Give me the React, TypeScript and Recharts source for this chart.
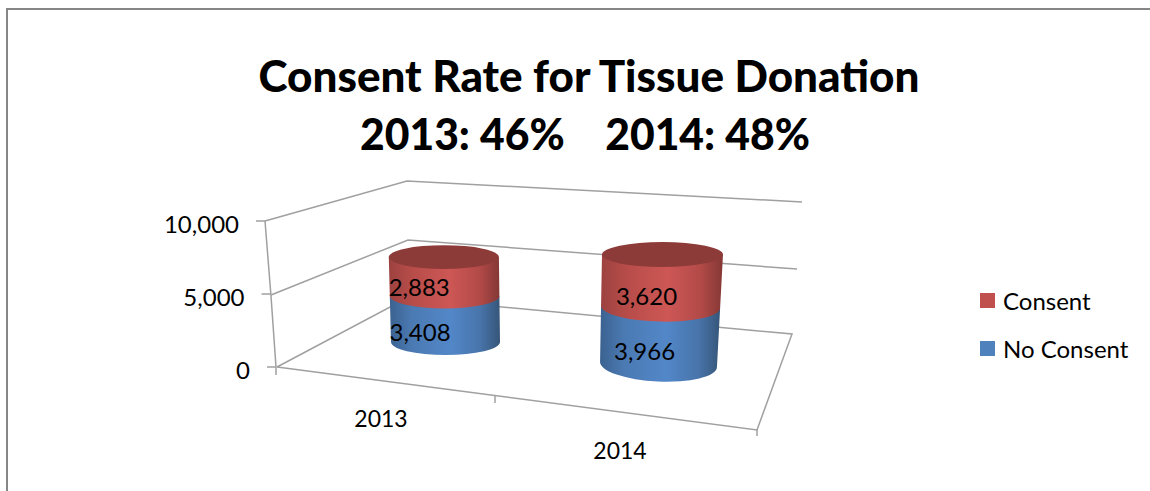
import React from "react";
import { BarChart, Bar, XAxis, YAxis, Legend, LabelList, Customized } from "recharts";

const years = ["2013", "2014"];
const noConsent = [3408, 3966];
const consent = [2883, 3620];
const yTicks = [0, 5000, 10000];
const titleLines = ["Consent Rate for Tissue Donation", "2013: 46%    2014: 48%"];
const titleWidths = [661, 450];
const titleCentres = [589, 585];

const chartData = years.map((year, i) => ({ year, noConsent: noConsent[i], consent: consent[i] }));

const FONT = "Lato, Carlito, sans-serif";
const W = 1150;
const H = 491;
const PLOT = { top: 222, bottom: 368, left: 277, right: 757 };
const RED = "#c0504d";
const BLUE = "#4f81bd";
const GRID = "#a0a0a0";

// Perspective of the floor for every category: where the foot of the cylinder lands and how it changes with height.
const VIEW = [
  { baseX: 445.5, baseY: 342, kY: 0.925, lean: -0.018, rx: 54.5, rxGrow: 0.006, ry: 13, ryGrow: -0.012, tilt: 0, tiltGrow: 0, labelDx: -25, labelDy: 12, tickDx: -16, tickY: 418 },
  { baseX: 658.5, baseY: 364.5, kY: 0.993, lean: 0.036, rx: 58.5, rxGrow: 0.018, ry: 17, ryGrow: -0.041, tilt: 2.7, tiltGrow: -0.025, labelDx: -15, labelDy: 15, tickDx: -17, tickY: 450 },
];

function ring(i: number, plotY: number) {
  const v = VIEW[i];
  const h = PLOT.bottom - plotY;
  const cx = v.baseX + v.lean * h;
  const cy = v.baseY - v.kY * h;
  const rx = v.rx + v.rxGrow * h;
  const ry = v.ry + v.ryGrow * h;
  const tilt = v.tilt + v.tiltGrow * h;
  const rad = (tilt * Math.PI) / 180;
  return {
    cx, cy, rx, ry, tilt,
    lx: cx - rx * Math.cos(rad), ly: cy - rx * Math.sin(rad),
    rX: cx + rx * Math.cos(rad), rY: cy + rx * Math.sin(rad),
  };
}

function Cylinder(props: any) {
  const { y, height, index, gradient, topFill } = props;
  const top = ring(index, y);
  const foot = ring(index, y + height);
  const d =
    `M${top.lx},${top.ly} L${foot.lx},${foot.ly} ` +
    `A${foot.rx},${foot.ry} ${foot.tilt} 0 0 ${foot.rX},${foot.rY} ` +
    `L${top.rX},${top.rY} Z`;
  return (
    <g>
      <path d={d} fill={`url(#${gradient})`} />
      {topFill ? (
        <ellipse cx={top.cx} cy={top.cy} rx={top.rx} ry={top.ry} fill={topFill} transform={`rotate(${top.tilt} ${top.cx} ${top.cy})`} />
      ) : null}
    </g>
  );
}

function DataLabel(props: any) {
  const { y, height, index, value, nudge = 0 } = props;
  const v = VIEW[index];
  const a = ring(index, y);
  const b = ring(index, y + height);
  return (
    <text
      x={(a.cx + b.cx) / 2 + v.labelDx}
      y={(a.cy + b.cy) / 2 + v.labelDy + (index === 0 ? nudge : 0)}
      textAnchor="middle"
      dominantBaseline="central"
      fontFamily={FONT}
      fontSize={24}
      fill="#000"
    >
      {Number(value).toLocaleString("en-US")}
    </text>
  );
}

function YTick(props: any) {
  const { y, payload } = props;
  const h = PLOT.bottom - y;
  const axisX = PLOT.left - 1 - h * 0.0753;
  return (
    <g>
      <line x1={axisX - 9} x2={axisX} y1={y - 1} y2={y - 1} stroke={GRID} strokeWidth={1.5} />
      <text x={axisX - 26} y={y + 1} textAnchor="end" dominantBaseline="central" fontFamily={FONT} fontSize={24} fill="#000">
        {Number(payload.value).toLocaleString("en-US")}
      </text>
    </g>
  );
}

function XTick(props: any) {
  const { x, payload, index } = props;
  const v = VIEW[index];
  return (
    <text x={x + v.tickDx} y={v.tickY} textAnchor="middle" dominantBaseline="central" fontFamily={FONT} fontSize={23} fill="#000">
      {payload.value}
    </text>
  );
}

function Room() {
  const lines = [
    "M265,221 L407,181 L802,202",
    "M271,295 L408,240 L797,269",
    "M277,367 L407,298 L792,334 L757,430 L277,367",
    "M265,221 L271,296 L276,367 L276,375",
    "M495,395 L495,403",
    "M757,430 L757,436",
  ];
  const side = (id: string, l: string, a: string, m: string, b: string, r: string) => (
    <linearGradient id={id} x1="0" x2="1" y1="0" y2="0">
      <stop offset="0" stopColor={l} />
      <stop offset="0.2" stopColor={a} />
      <stop offset="0.55" stopColor={m} />
      <stop offset="0.82" stopColor={b} />
      <stop offset="1" stopColor={r} />
    </linearGradient>
  );
  return (
    <g>
      <defs>
        {side("redSide", "#9c4240", "#b64c49", "#cd5755", "#b24a48", "#843835")}
        {side("blueSide", "#3b6290", "#4b7ab3", "#5287c8", "#4874aa", "#365679")}
      </defs>
      <path d={`M${W},9 L7,9 L7,${H}`} fill="none" stroke="#868686" strokeWidth={2} />
      {titleLines.map((t, i) => (
        <text
          key={t}
          x={titleCentres[i]}
          y={92 + i * 58}
          textAnchor="middle"
          fontFamily={FONT}
          fontWeight={900}
          fontSize={43}
          textLength={titleWidths[i]}
          lengthAdjust="spacingAndGlyphs"
          fill="#000"
          style={{ whiteSpace: "pre" }}
        >
          {t}
        </text>
      ))}
      {lines.map((d) => (
        <path key={d} d={d} fill="none" stroke={GRID} strokeWidth={1.5} />
      ))}
    </g>
  );
}

function LegendBox(props: any) {
  const items = props.payload || [];
  const ordered = ["Consent", "No Consent"].map((n) => items.find((it: any) => it.value === n)).filter(Boolean);
  return (
    <div style={{ fontFamily: FONT, fontSize: 24, color: "#000", whiteSpace: "nowrap" }}>
      {ordered.map((it: any) => (
        <div key={it.value} style={{ display: "flex", alignItems: "center", height: 30, marginBottom: 18 }}>
          <span style={{ width: 15, height: 15, background: it.color, marginRight: 8, display: "inline-block" }} />
          <span>{it.value}</span>
        </div>
      ))}
    </div>
  );
}

export default function App() {
  return (
    <div style={{ position: "absolute", left: 0, top: 0, width: W, height: H, background: "#fff", overflow: "hidden" }}>
      <BarChart
        width={W}
        height={H}
        data={chartData}
        barSize={115}
        margin={{ top: PLOT.top, bottom: H - PLOT.bottom - 30, left: PLOT.left - 60, right: W - PLOT.right }}
      >
        <Customized component={<Room />} />
        <XAxis dataKey="year" height={30} axisLine={false} tickLine={false} tick={<XTick />} interval={0} />
        <YAxis width={60} domain={[0, 10000]} ticks={yTicks} axisLine={false} tickLine={false} tick={<YTick />} interval={0} />
        <Legend
          layout="vertical"
          align="center"
          verticalAlign="middle"
          content={<LegendBox />}
          wrapperStyle={{ position: "absolute", left: 980, top: 285, width: 170 }}
        />
        <Bar
          dataKey="noConsent"
          name="No Consent"
          stackId="a"
          fill={BLUE}
          isAnimationActive={false}
          shape={(p: any) => <Cylinder {...p} gradient="blueSide" />}
        >
          <LabelList dataKey="noConsent" content={(p: any) => <DataLabel {...p} nudge={1} />} />
        </Bar>
        <Bar
          dataKey="consent"
          name="Consent"
          stackId="a"
          fill={RED}
          isAnimationActive={false}
          shape={(p: any) => <Cylinder {...p} gradient="redSide" topFill="#8c3b39" />}
        >
          <LabelList dataKey="consent" content={(p: any) => <DataLabel {...p} nudge={-2} />} />
        </Bar>
      </BarChart>
    </div>
  );
}
